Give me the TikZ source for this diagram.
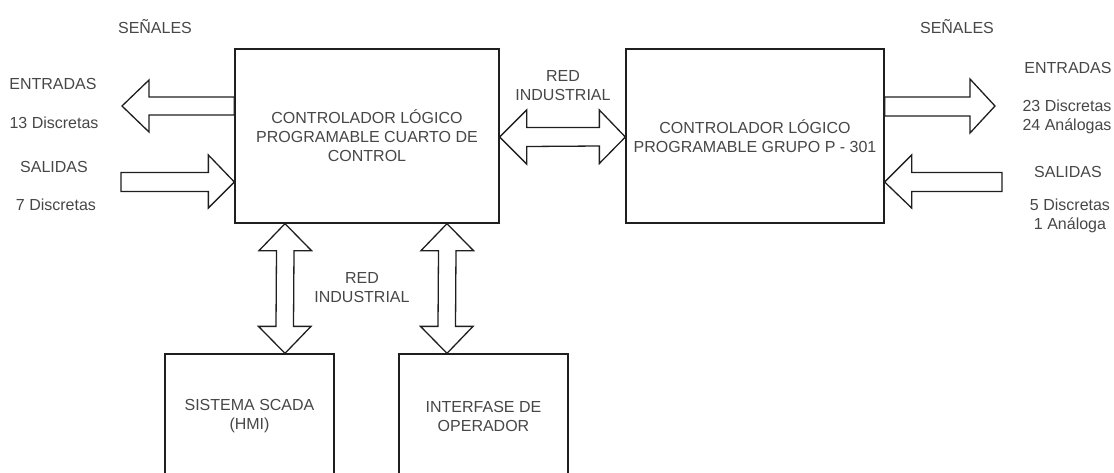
\documentclass[tikz,border=0pt]{standalone}
\usepackage{fontspec}
\setmainfont{Liberation Sans}
\usetikzlibrary{calc}
\tikzset{
  txt/.style={font=\fontsize{16}{19}\selectfont, text=black!72, align=center, inner sep=0pt},
  box/.style={draw=black!88, line width=1.3pt, fill=white, rectangle, txt, inner sep=0pt},
  blk/.style={draw=black!88, line width=1.3pt, line join=miter, fill=white},
}
\begin{document}
\begin{tikzpicture}[x=1pt, y=-1pt]
\useasboundingbox (0,0) rectangle (1114,472);
\clip (0,0) rectangle (1114,472);

% main blocks
\node[box, minimum width=264pt, minimum height=174pt] (plc1) at (367,136)
  {CONTROLADOR LÓGICO\\PROGRAMABLE CUARTO DE\\CONTROL};
\node[box, minimum width=258pt, minimum height=174pt] (plc2) at (755,136)
  {CONTROLADOR LÓGICO\\PROGRAMABLE GRUPO P - 301};
\node[box, minimum width=169pt, minimum height=124pt] (scada) at (249.5,416)
  {SISTEMA SCADA\\(HMI)};
\node[box, minimum width=169pt, minimum height=124pt] (ihm) at (483.5,416)
  {INTERFASE DE\\OPERADOR};

% free ends of the signal arrows and axes of the vertical links
\coordinate (inL)  at (122,106);
\coordinate (outL) at (121,182);
\coordinate (inR)  at (995,106);
\coordinate (outR) at (1002,182);
\coordinate (vL) at (285,0);
\coordinate (vR) at (447,0);

% network link between the two controllers
\draw[blk] ($(plc1.east)+(0,1)$) -- ++(27,-27) -- ++(0,17.5)
  -- ($(plc2.west)+(-26,-8.5)$) -- ++(0,-17.5) -- ($(plc2.west)+(0,1)$)
  -- ++(-26,26.5) -- ++(0,-17.5) -- ($(plc1.east)+(27,10.5)$) -- ++(0,17.5) -- cycle;

% signal arrows of the control-room controller
\draw[blk] (inL) -- ++(27,-26) -- ++(0,17) -- ($(plc1.west |- inL)+(0,-9)$)
  -- ($(plc1.west |- inL)+(0,9)$) -- ($(inL)+(27,9)$) -- ++(0,17) -- cycle;
\draw[blk] (plc1.west |- outL) -- ++(-26,-27) -- ++(0,17.5) -- ($(outL)+(0,-9.5)$)
  -- ($(outL)+(0,9.5)$) -- ($(plc1.west |- outL)+(-26,9.5)$) -- ++(0,16.5) -- cycle;

% signal arrows of the P-301 controller
\draw[blk] (inR) -- ++(-25,-27) -- ++(0,18) -- ($(plc2.east |- inR)+(0,-9)$)
  -- ($(plc2.east |- inR)+(0,10)$) -- ($(inR)+(-25,10)$) -- ++(0,17) -- cycle;
\draw[blk] (plc2.east |- outR) -- ++(27,-27) -- ++(0,17.5) -- ($(outR)+(0,-9.5)$)
  -- ($(outR)+(0,9.5)$) -- ($(plc2.east |- outR)+(27,9.5)$) -- ++(0,16.5) -- cycle;

% network links down to the SCADA station and the operator interface
\foreach \v/\n in {vL/scada, vR/ihm}{
  \draw[blk] (\v |- plc1.south) -- ++(26.5,27) -- ++(-17.5,0)
    -- ($(\v |- \n.north)+(8.5,-27)$) -- ++(17.5,0) -- (\v |- \n.north)
    -- ++(-26.5,-27) -- ++(17.5,0) -- ($(\v |- plc1.south)+(-8.5,27)$) -- ++(-17.5,0) -- cycle;
}

% labels
\node[txt] (senL) at (155,27) {SEÑALES};
\node[txt] (entL) at (53,84) {ENTRADAS};
\node[txt] (entLn) at (54,123) {13 Discretas};
\node[txt] (salL) at (54,167) {SALIDAS};
\node[txt] (salLn) at (56,205) {7 Discretas};

\node[txt] (red1) at (563,86) {RED\\INDUSTRIAL};
\node[txt] (red2) at (362,288) {RED\\INDUSTRIAL};

\node[txt] (senR) at (957,27) {SEÑALES};
\node[txt] (entR) at (1068,68) {ENTRADAS};
\node[txt] (entRn) at (1067,116.5) {23 Discretas\\24 Análogas};
\node[txt] (salR) at (1068,172) {SALIDAS};
\node[txt] (salRn) at (1070,216) {5 Discretas\\1 Análoga};
\end{tikzpicture}
\end{document}
